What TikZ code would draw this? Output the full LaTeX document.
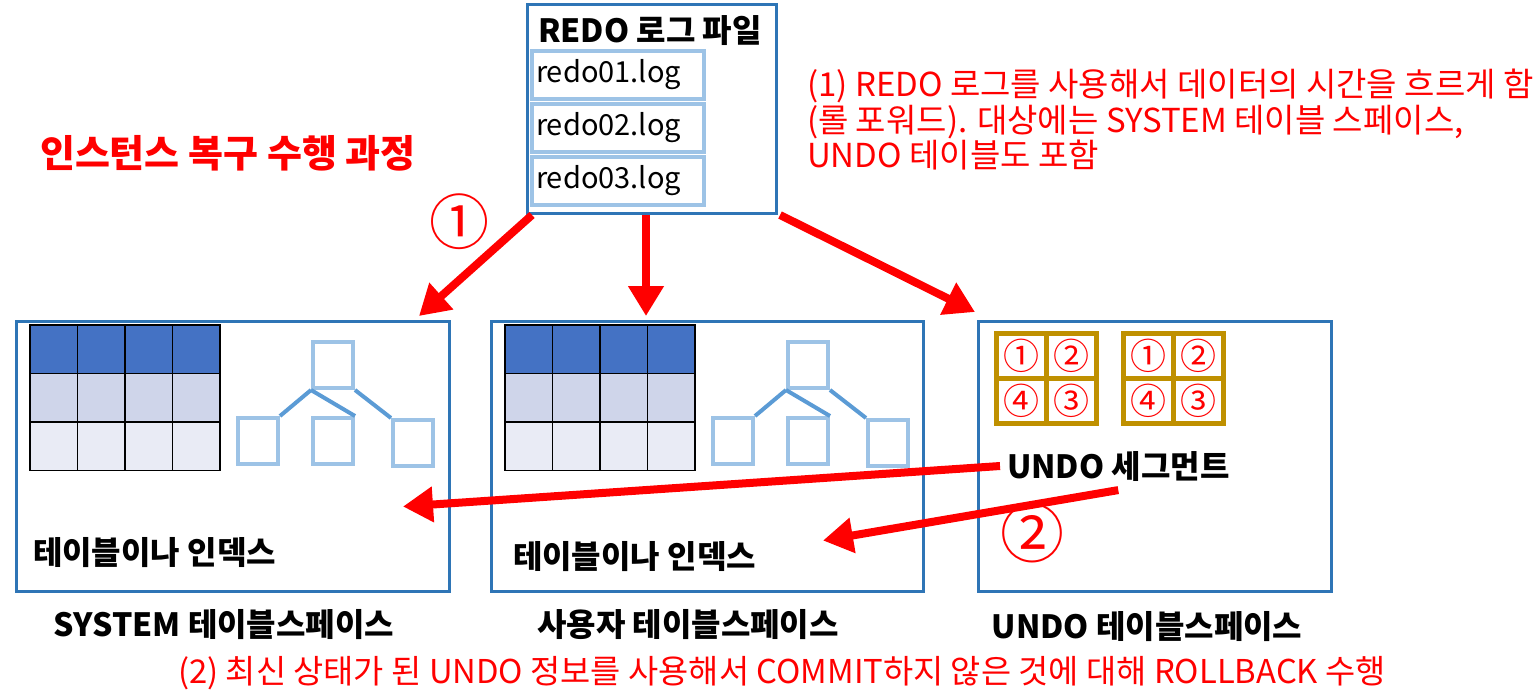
\documentclass[tikz,border=0pt]{standalone}
\usepackage{fontspec}
\setmainfont{Noto Sans CJK KR}
\usepackage{tikz}
\usetikzlibrary{arrows.meta,positioning}
\definecolor{boxblue}{HTML}{2E75B6}
\definecolor{lightblue}{HTML}{9DC3E6}
\definecolor{treeblue}{HTML}{5B9BD5}
\definecolor{rowA}{HTML}{4472C4}
\definecolor{rowB}{HTML}{CFD5EA}
\definecolor{rowC}{HTML}{E9EBF5}
\definecolor{gold}{HTML}{BF9000}
\definecolor{myred}{HTML}{FF0000}

\begin{document}
\begin{tikzpicture}[x=0.5pt,y=-0.5pt,
  space/.style={shape=rectangle,draw=boxblue,line width=1.5pt,anchor=north west,inner sep=0pt},
  logfile/.style={shape=rectangle,draw=lightblue,line width=2pt,anchor=north west,minimum width=86pt,minimum height=24pt,inner sep=1.5pt,text width=82pt,font=\fontsize{14.5}{16}\selectfont},
  leaf/.style={shape=rectangle,draw=lightblue,line width=2pt,minimum width=20pt,minimum height=23pt,anchor=north west,inner sep=0pt},
  seg/.style={shape=rectangle,draw=gold,line width=2.5pt,minimum width=25pt,minimum height=22.5pt,anchor=north west,inner sep=0pt,text=myred,font=\fontsize{18}{18}\selectfont},
  bigarrow/.style={draw=myred,line width=4pt,-{Triangle[length=15pt,width=17pt]}},
  title/.style={font=\bfseries\fontsize{16}{18}\selectfont}]
\useasboundingbox (0,0) rectangle (1540,698);

% REDO log files
\node[space,minimum width=124.5pt,minimum height=104.5pt] (R) at (526,3) {};
\node[title,anchor=north] at (650,8) {REDO 로그 파일};
\node[logfile] (L1) at (530,49) {redo01.log};
\node[logfile] (L2) at (530,102) {redo02.log};
\node[logfile] (L3) at (530,155) {redo03.log};

\node[anchor=north west,text=myred,align=left,font=\fontsize{16.5}{17.8}\selectfont] (M1) at (800,62)
  {(1) REDO 로그를 사용해서 데이터의 시간을 흐르게 함\\(롤 포워드). 대상에는 SYSTEM 테이블 스페이스,\\UNDO 테이블도 포함};
\node[anchor=west,text=myred,font=\bfseries\fontsize{19}{22}\selectfont] (T) at (33,153) {인스턴스 복구 수행 과정};
\node[text=myred,font=\fontsize{30}{30}\selectfont] (C1) at (459,222) {①};

% tablespaces
\node[space,minimum width=216.5pt,minimum height=135pt] (S) at (15,320) {};
\node[space,minimum width=216pt,minimum height=135pt] (P) at (490,320) {};
\node[space,minimum width=176.5pt,minimum height=135pt] (N) at (977,320) {};

\foreach \o/\n in {0/a,475/b} {
  % table
  \foreach \r/\c in {0/rowA,1/rowB,2/rowC}
    \foreach \k in {0,1,2,3}
      \filldraw[fill=\c,draw=black,line width=0.6pt] (30+\o+47.5*\k,325+48.5*\r) rectangle ++(47.5,48.5);
  % index tree
  \node[leaf] (r\n) at (311+\o,340) {};
  \node[leaf] (x\n) at (236+\o,416) {};
  \node[leaf] (y\n) at (311+\o,416) {};
  \node[leaf] (z\n) at (391+\o,418) {};
  \draw[treeblue,line width=2pt] (r\n.south west) -- (x\n.north east);
  \draw[treeblue,line width=2pt] (r\n.south west) -- (y\n.north east);
  \draw[treeblue,line width=2pt] (r\n.south east) -- (z\n.north west);
}
\node[title,anchor=west] (I1) at (26,553) {테이블이나 인덱스};
\node[title,anchor=west] (I2) at (506,557) {테이블이나 인덱스};

% undo segments
\foreach \o/\n in {0/a,127/b} {
  \node[seg] (s1\n) at (994+\o,331) {①};
  \node[seg] (s2\n) at (1044+\o,331) {②};
  \node[seg] (s4\n) at (994+\o,376) {④};
  \node[seg] (s3\n) at (1044+\o,376) {③};
}
\node[title,anchor=west] (G) at (1000,466) {UNDO 세그먼트};
\node[text=myred,font=\fontsize{32}{32}\selectfont] (C2) at (1032,533) {②};

\node[title] (SL) at (224,625) {SYSTEM 테이블스페이스};
\node[title] (PL) at (688,625) {사용자 테이블스페이스};
\node[title] (NL) at (1147,627) {UNDO 테이블스페이스};
\node[text=myred,font=\fontsize{16.4}{18}\selectfont] (M2) at (782,673)
  {(2) 최신 상태가 된 UNDO 정보를 사용해서 COMMIT하지 않은 것에 대해 ROLLBACK 수행};

% arrows
\draw[bigarrow] ([xshift=3pt]R.south west) -- ([xshift=-16pt,yshift=2pt]S.north east);
\draw[bigarrow] ([xshift=-3pt]R.south) -- ([xshift=-3pt,yshift=2pt]R.south |- P.north);
\draw[bigarrow] ([xshift=1pt]R.south east) -- ([xshift=-1pt,yshift=4pt]N.north west);
\draw[bigarrow] (G.west) -- ([xshift=-24pt,yshift=-25pt]S.east);
\draw[bigarrow] ([yshift=-1pt]G.south) -- ([xshift=-51pt,yshift=-42pt]P.east);
\end{tikzpicture}
\end{document}
